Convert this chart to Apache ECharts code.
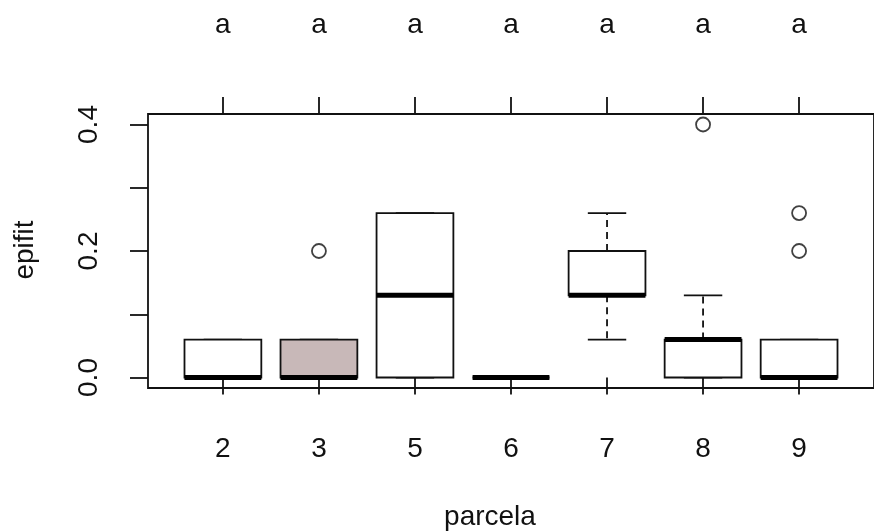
<!DOCTYPE html>
<html>
<head>
<meta charset="utf-8">
<script src="https://cdn.jsdelivr.net/npm/echarts@6/dist/echarts.min.js"></script>
<style>
  html, body { margin: 0; padding: 0; background: #fff; }
  #main { width: 874px; height: 532px; }
</style>
</head>
<body>
<div id="main"></div>
<script>
// parcelas y letras de grupo
const categories = ['2', '3', '5', '6', '7', '8', '9'];
const groupLetters = ['a', 'a', 'a', 'a', 'a', 'a', 'a'];

// resumen de cada caja: bigote inferior, Q1, mediana, Q3, bigote superior
const lowWhisker  = [0,    0,    0,    0, 0.06, 0,    0];
const q1          = [0,    0,    0,    0, 0.13, 0,    0];
const median      = [0,    0,    0.13, 0, 0.13, 0.06, 0];
const q3          = [0.06, 0.06, 0.26, 0, 0.20, 0.06, 0.06];
const highWhisker = [0.06, 0.06, 0.26, 0, 0.26, 0.13, 0.06];

// atipicos: [parcela, valor]
const outliers = [['3', 0.2], ['8', 0.4], ['9', 0.2], ['9', 0.26]];

const yTicks = [0, 0.1, 0.2, 0.3, 0.4];
const yLabels = [0, 0.2, 0.4];
const highlighted = '3';

const font = 'Liberation Sans, Arial, sans-serif';
const ink = '#111';
const positions = categories.map((c, i) => i + 1);

const boxData = categories.map((c, i) => [i + 1, lowWhisker[i], q1[i], median[i], q3[i], highWhisker[i]]);
const outlierData = outliers.map(o => [categories.indexOf(o[0]) + 1, o[1]]);

function renderBox(params, api) {
  const x = api.value(0);
  const pLow = api.coord([x, api.value(1)]);
  const pQ1 = api.coord([x, api.value(2)]);
  const pMed = api.coord([x, api.value(3)]);
  const pQ3 = api.coord([x, api.value(4)]);
  const pHigh = api.coord([x, api.value(5)]);
  const half = api.size([0.8, 0])[0] / 2;
  const cap = api.size([0.4, 0])[0] / 2;
  const cx = pMed[0];
  const fill = categories[params.dataIndex] === highlighted ? '#c8b8b8' : '#ffffff';
  const line = { stroke: ink, lineWidth: 1.8 };
  const dashed = { stroke: ink, lineWidth: 1.8, lineDash: [7, 5] };
  return {
    type: 'group',
    children: [
      { type: 'line', shape: { x1: cx, y1: pQ1[1], x2: cx, y2: pLow[1] }, style: dashed },
      { type: 'line', shape: { x1: cx, y1: pQ3[1], x2: cx, y2: pHigh[1] }, style: dashed },
      { type: 'line', shape: { x1: cx - cap, y1: pLow[1], x2: cx + cap, y2: pLow[1] }, style: line },
      { type: 'line', shape: { x1: cx - cap, y1: pHigh[1], x2: cx + cap, y2: pHigh[1] }, style: line },
      { type: 'rect', shape: { x: cx - half, y: pQ3[1], width: half * 2, height: pQ1[1] - pQ3[1] },
        style: { fill: fill, stroke: ink, lineWidth: 1.8 } },
      { type: 'line', shape: { x1: cx - half, y1: pMed[1], x2: cx + half, y2: pMed[1] },
        style: { stroke: '#000', lineWidth: 5 } }
    ]
  };
}

const chart = echarts.init(document.getElementById('main'));

const xCommon = {
  type: 'value',
  min: 0.22,
  max: 7.78,
  splitLine: { show: false },
  axisLine: { show: false },
  axisTick: { show: true, length: 17, customValues: positions, lineStyle: { color: ink, width: 1.8 } }
};

const option = {
  animation: false,
  backgroundColor: '#fff',
  grid: {
    left: 148, top: 114, width: 731, height: 274,
    show: true, borderColor: ink, borderWidth: 1.8, backgroundColor: 'transparent'
  },
  xAxis: [
    Object.assign({}, xCommon, {
      position: 'bottom',
      axisLabel: {
        customValues: positions, margin: 47, fontSize: 28, color: ink, fontFamily: font,
        formatter: v => categories[Math.round(v) - 1]
      }
    }),
    Object.assign({}, xCommon, {
      position: 'top',
      axisLabel: {
        customValues: positions, margin: 75, fontSize: 28, color: ink, fontFamily: font,
        formatter: v => groupLetters[Math.round(v) - 1]
      }
    })
  ],
  yAxis: {
    type: 'value',
    min: -0.0166,
    max: 0.4166,
    splitLine: { show: false },
    axisLine: { show: false },
    axisTick: { show: true, length: 18, customValues: yTicks, lineStyle: { color: ink, width: 1.8 } },
    axisLabel: {
      customValues: yLabels, rotate: 90, margin: 45, fontSize: 28, color: ink, fontFamily: font,
      formatter: v => v.toFixed(1)
    }
  },
  graphic: [
    { type: 'text', x: 490, y: 517, style: { text: 'parcela', fontSize: 28, fontFamily: font, fill: ink, textAlign: 'center', textVerticalAlign: 'middle' } },
    { type: 'text', x: 25, y: 250, rotation: Math.PI / 2, style: { text: 'epifit', fontSize: 28, fontFamily: font, fill: ink, textAlign: 'center', textVerticalAlign: 'middle' } }
  ],
  series: [
    {
      type: 'custom',
      renderItem: renderBox,
      data: boxData,
      encode: { x: 0, y: [1, 2, 3, 4, 5] },
      z: 2
    },
    {
      type: 'scatter',
      data: outlierData,
      symbol: 'circle',
      symbolSize: 14,
      itemStyle: { color: 'transparent', borderColor: ink, borderWidth: 1.8 },
      z: 3
    }
  ]
};

chart.setOption(option);
</script>
</body>
</html>
